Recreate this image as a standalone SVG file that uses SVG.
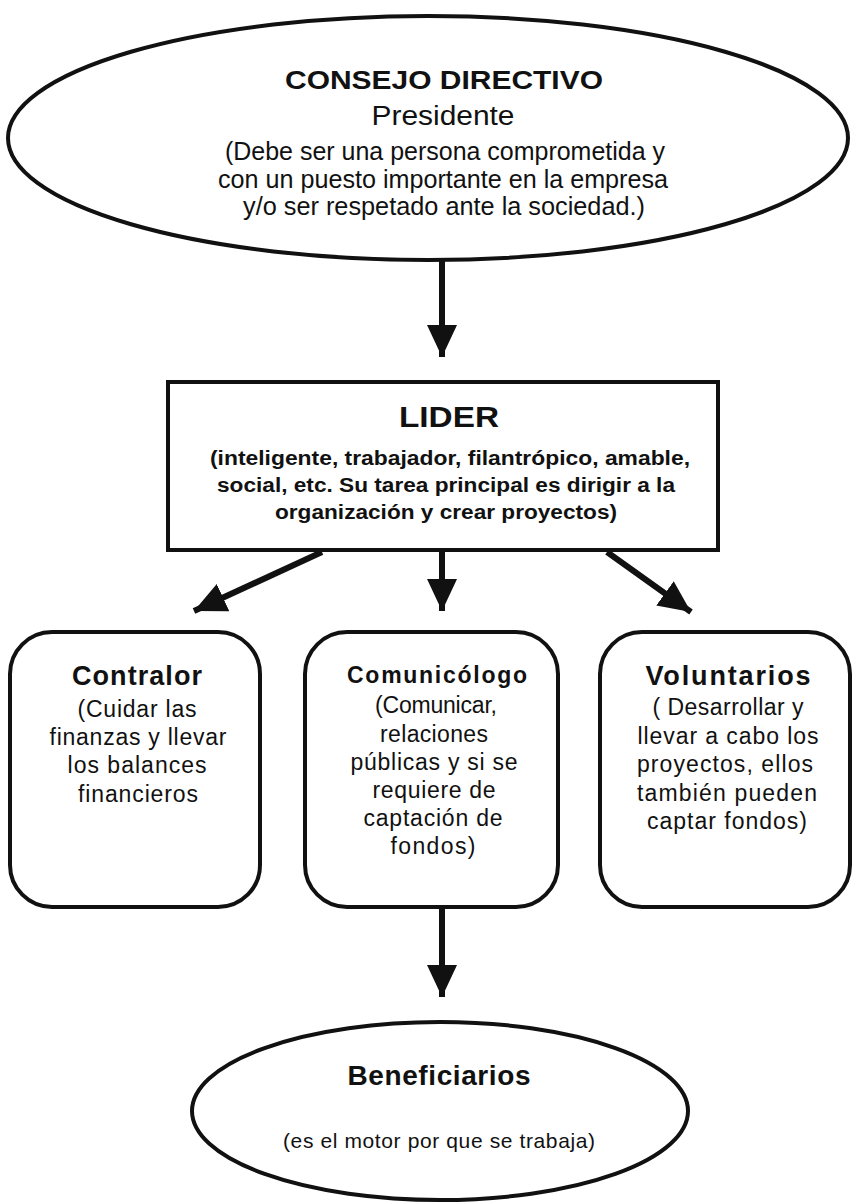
<svg xmlns="http://www.w3.org/2000/svg" width="855" height="1203" viewBox="0 0 855 1203">
<style>
.shape{fill:#fff;stroke:#111;stroke-width:4}
.t{font-family:"Liberation Sans",Arial,sans-serif;fill:#111;text-anchor:middle}
.b{font-weight:bold}
.conn line{stroke:#111;stroke-width:6}
</style>
<defs>
<marker id="ah" markerUnits="userSpaceOnUse" markerWidth="32" markerHeight="30" refX="32" refY="15" orient="auto">
<path d="M0,0 L32,15 L0,30 Z" fill="#111"/>
</marker>
</defs>
<rect width="855" height="1203" fill="#fff"/>
<g id="consejo">
<ellipse class="shape" cx="428" cy="138" rx="420" ry="122"/>
<text class="t b" x="444" y="89" font-size="25" textLength="318" lengthAdjust="spacingAndGlyphs">CONSEJO DIRECTIVO</text>
<text class="t" x="443" y="125" font-size="27" textLength="143" lengthAdjust="spacingAndGlyphs">Presidente</text>
<text class="t" x="445" y="160" font-size="25" textLength="440" lengthAdjust="spacingAndGlyphs">(Debe ser una persona comprometida y</text>
<text class="t" x="443" y="188" font-size="25" textLength="450" lengthAdjust="spacingAndGlyphs">con un puesto importante en la empresa</text>
<text class="t" x="444" y="215" font-size="25" textLength="402" lengthAdjust="spacingAndGlyphs">y/o ser respetado ante la sociedad.)</text>
</g>
<g id="lider">
<rect class="shape" x="168" y="382" width="550" height="168"/>
<text class="t b" x="449" y="427" font-size="29" textLength="100" lengthAdjust="spacingAndGlyphs">LIDER</text>
<text class="t b" x="450" y="465" font-size="20" textLength="480" lengthAdjust="spacingAndGlyphs">(inteligente, trabajador, filantrópico, amable,</text>
<text class="t b" x="446" y="492" font-size="20" textLength="458" lengthAdjust="spacingAndGlyphs">social, etc. Su tarea principal es dirigir a la</text>
<text class="t b" x="446" y="519" font-size="20" textLength="342" lengthAdjust="spacingAndGlyphs">organización y crear proyectos)</text>
</g>
<g id="contralor">
<rect class="shape" x="10" y="632" width="250" height="275" rx="42"/>
<text class="t b" x="137" y="685" font-size="27" textLength="130" lengthAdjust="spacing">Contralor</text>
<text class="t" x="137" y="717" font-size="23" textLength="119" lengthAdjust="spacing">(Cuidar las</text>
<text class="t" x="138" y="745" font-size="23" textLength="177" lengthAdjust="spacing">finanzas y llevar</text>
<text class="t" x="137" y="773" font-size="23" textLength="139" lengthAdjust="spacing">los balances</text>
<text class="t" x="138" y="802" font-size="23" textLength="120" lengthAdjust="spacing">financieros</text>
</g>
<g id="comunicologo">
<rect class="shape" x="305" y="632" width="253" height="275" rx="42"/>
<text class="t b" x="437" y="683" font-size="23" textLength="180" lengthAdjust="spacing">Comunicólogo</text>
<text class="t" x="436" y="713" font-size="23" textLength="122" lengthAdjust="spacing">(Comunicar,</text>
<text class="t" x="434" y="742" font-size="23" textLength="108" lengthAdjust="spacing">relaciones</text>
<text class="t" x="434" y="770" font-size="23" textLength="167" lengthAdjust="spacing">públicas y si se</text>
<text class="t" x="434" y="798" font-size="23" textLength="123" lengthAdjust="spacing">requiere de</text>
<text class="t" x="433" y="826" font-size="23" textLength="139" lengthAdjust="spacing">captación de</text>
<text class="t" x="433" y="854" font-size="23" textLength="85" lengthAdjust="spacing">fondos)</text>
</g>
<g id="voluntarios">
<rect class="shape" x="600" y="632" width="250" height="275" rx="42"/>
<text class="t b" x="728" y="685" font-size="27" textLength="165" lengthAdjust="spacing">Voluntarios</text>
<text class="t" x="728" y="715" font-size="23" textLength="151" lengthAdjust="spacing">( Desarrollar y</text>
<text class="t" x="728" y="744" font-size="23" textLength="181" lengthAdjust="spacing">llevar a cabo los</text>
<text class="t" x="725" y="772" font-size="23" textLength="176" lengthAdjust="spacing">proyectos, ellos</text>
<text class="t" x="727" y="801" font-size="23" textLength="180" lengthAdjust="spacing">también pueden</text>
<text class="t" x="727" y="829" font-size="23" textLength="160" lengthAdjust="spacing">captar fondos)</text>
</g>
<g id="beneficiarios">
<ellipse class="shape" cx="440" cy="1111" rx="248" ry="89"/>
<text class="t b" x="439" y="1085" font-size="28" textLength="183" lengthAdjust="spacing">Beneficiarios</text>
<text class="t" x="439" y="1148" font-size="21" textLength="312" lengthAdjust="spacing">(es el motor por que se trabaja)</text>
</g>
<g class="conn" id="connectors">
<line x1="442" y1="260" x2="442" y2="357" marker-end="url(#ah)"/>
<line x1="322" y1="552" x2="194" y2="611" marker-end="url(#ah)"/>
<line x1="442" y1="552" x2="442" y2="611" marker-end="url(#ah)"/>
<line x1="607" y1="552" x2="691" y2="612" marker-end="url(#ah)"/>
<line x1="442" y1="909" x2="442" y2="997" marker-end="url(#ah)"/>
</g>
</svg>
